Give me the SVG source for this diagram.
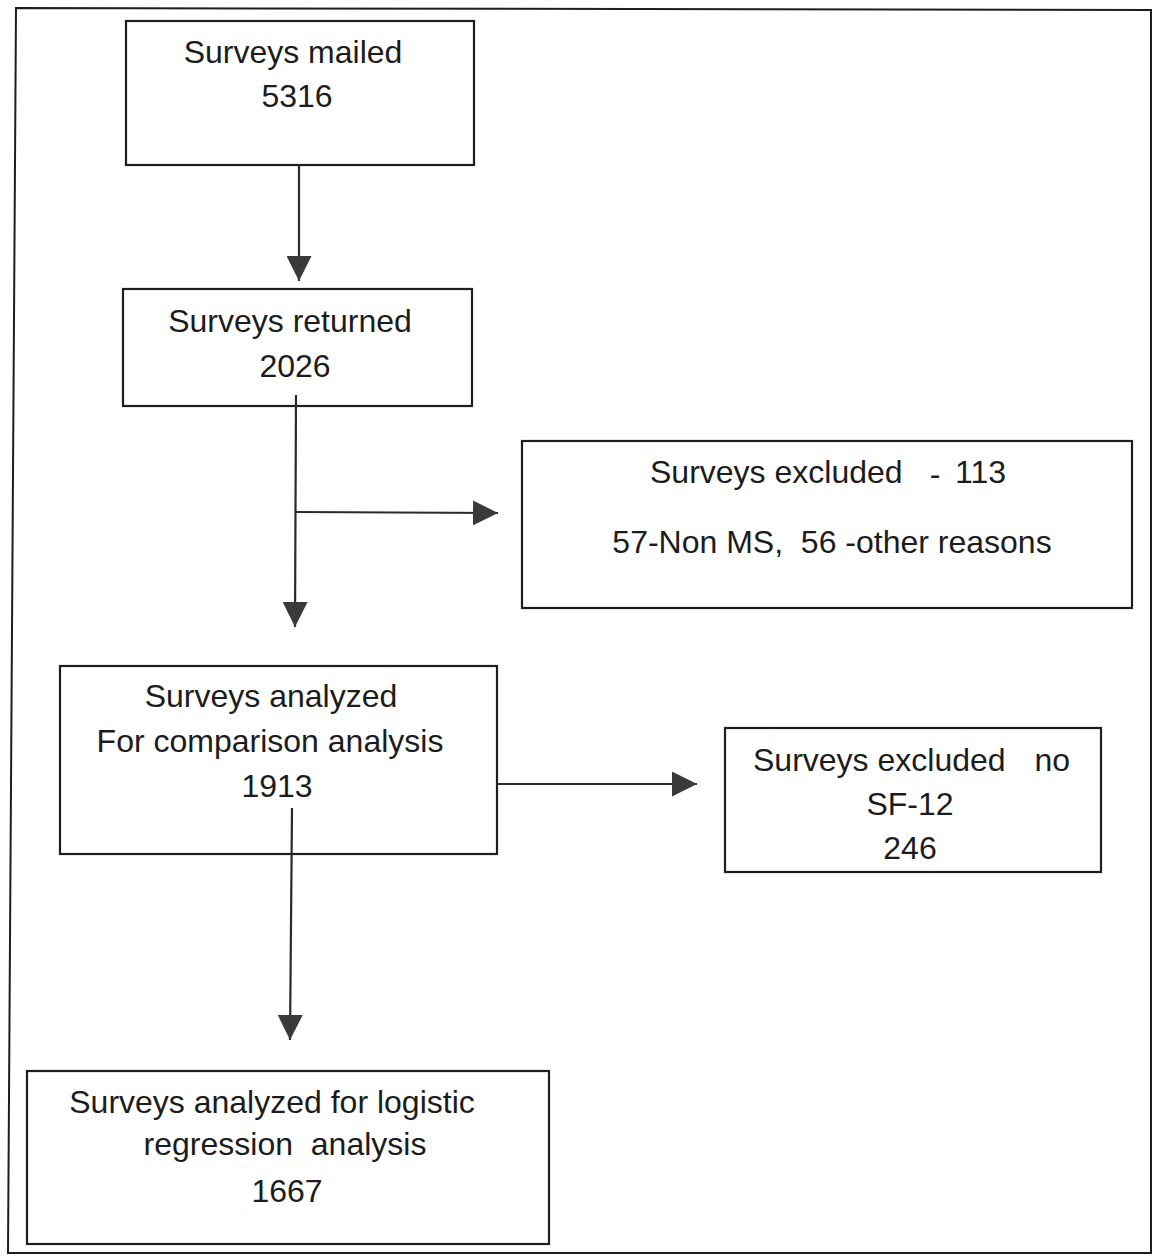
<svg xmlns="http://www.w3.org/2000/svg" width="1153" height="1257" viewBox="0 0 1153 1257">
<style>
.box{fill:#fff;stroke:#1e1e1e;stroke-width:2.2}
.ln{fill:none;stroke:#2a2a2a;stroke-width:2.2}
.t{font-family:"Liberation Sans",Arial,sans-serif;font-size:32px;fill:#1c1c1c;text-anchor:middle}
.s{text-anchor:start}
.e{text-anchor:end}
</style>
<defs>
<marker id="ah" viewBox="0 0 25 25" refX="25" refY="12.5" markerWidth="25" markerHeight="25" markerUnits="userSpaceOnUse" orient="auto">
<path d="M0,0 L25,12.5 L0,25 Z" fill="#3a3a3a"/>
</marker>
</defs>
<rect width="1153" height="1257" fill="#fff"/>
<path d="M16,8 L1151,10 L1151,1253 L8,1253 Z" fill="none" stroke="#1e1e1e" stroke-width="2"/>
<g id="n1">
<rect class="box" x="126" y="21" width="348" height="144"/>
<text class="t" x="293" y="63">Surveys mailed</text>
<text class="t" x="297" y="107">5316</text>
</g>
<g id="n2">
<rect class="box" x="123" y="289" width="349" height="117"/>
<text class="t" x="290" y="332">Surveys returned</text>
<text class="t" x="295" y="377">2026</text>
</g>
<g id="n3">
<rect class="box" x="522" y="441" width="610" height="167"/>
<text class="t s" x="650" y="483">Surveys excluded</text>
<text class="t" x="935" y="485">-</text>
<text class="t e" x="1006" y="483">113</text>
<text class="t" x="832" y="553" xml:space="preserve">57-Non MS,  56 -other reasons</text>
</g>
<g id="n4">
<rect class="box" x="60" y="666" width="437" height="188"/>
<text class="t" x="271" y="707">Surveys analyzed</text>
<text class="t" x="270" y="752">For comparison analysis</text>
<text class="t" x="277" y="797">1913</text>
</g>
<g id="n5">
<rect class="box" x="725" y="728" width="376" height="144"/>
<text class="t s" x="753" y="771">Surveys excluded</text>
<text class="t e" x="1070" y="771">no</text>
<text class="t" x="910" y="815">SF-12</text>
<text class="t" x="910" y="859">246</text>
</g>
<g id="n6">
<rect class="box" x="27" y="1071" width="522" height="173"/>
<text class="t" x="272" y="1113">Surveys analyzed for logistic</text>
<text class="t" x="285" y="1155" xml:space="preserve">regression  analysis</text>
<text class="t" x="287" y="1202">1667</text>
</g>
<g id="connectors">
<line class="ln" x1="299" y1="165" x2="299" y2="281" marker-end="url(#ah)"/>
<line class="ln" x1="296" y1="395" x2="295" y2="627" marker-end="url(#ah)"/>
<line class="ln" x1="295" y1="512" x2="498" y2="513" marker-end="url(#ah)"/>
<line class="ln" x1="497" y1="784" x2="697" y2="784" marker-end="url(#ah)"/>
<line class="ln" x1="292" y1="808" x2="290" y2="1040" marker-end="url(#ah)"/>
</g>
</svg>
